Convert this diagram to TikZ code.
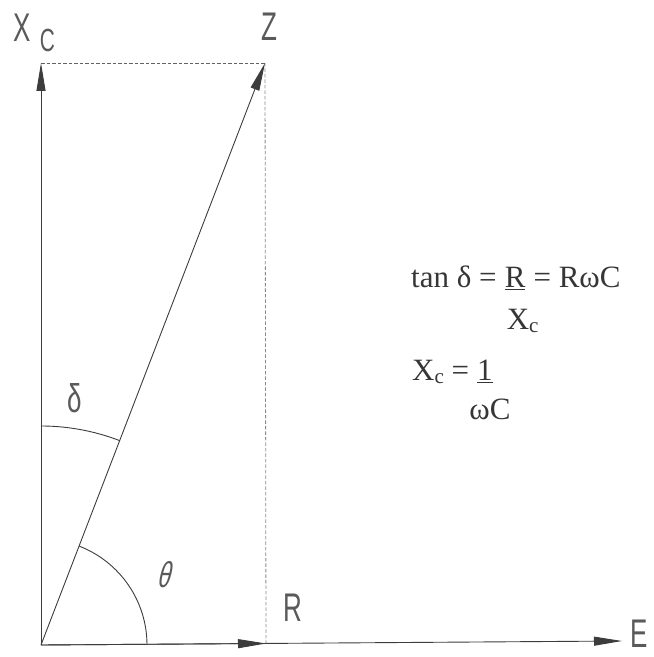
\documentclass[tikz,border=0pt]{standalone}
\usepackage{fontspec}
\setmainfont{Liberation Serif}
\newfontfamily\cad[FakeStretch=0.65]{Liberation Sans}
\newfontfamily\cadsl[FakeStretch=0.65,FakeSlant=0.25]{Liberation Sans}
\usetikzlibrary{arrows.meta,calc}
\definecolor{ink}{HTML}{3C3C3C}
\definecolor{lbl}{HTML}{5A5A5A}
\newcommand{\subc}{\raisebox{-3pt}{\fontsize{21}{21}\selectfont c}}
\begin{document}
\begin{tikzpicture}[x=1pt,y=1pt,
  axis/.style={draw=ink, line width=0.9pt},
  vec/.style={axis, -{Triangle[length=28pt,width=9pt]}},
  guide/.style={draw=ink!80, dash pattern=on 3.5pt off 2pt, line width=0.8pt},
  cadlbl/.style={text=lbl, font=\cad\fontsize{40}{40}\selectfont, inner sep=0},
  cadsmall/.style={text=lbl, font=\cad\fontsize{32}{32}\selectfont, inner sep=0},
  eq/.style={text=ink!90!black, font=\fontsize{31}{32}\selectfont, inner sep=0}]
\useasboundingbox (0,0) rectangle (654,657);
% points
\coordinate (O) at (41,12);
\coordinate (XC) at (41,594);
\coordinate (Z) at (265,594);
\coordinate (R) at (266,13.5);
\coordinate (E) at (622,16);
% guides
\draw[guide] (XC) -- (Z);
\draw[guide, draw=ink!60] (Z) -- (R);
% axes and vectors
\draw[vec] (O) -- (E);
\draw[vec] (O) -- (XC);
\draw[vec] (O) -- (R);
\draw[vec] (O) -- (Z);
% angle arcs
\draw[axis] (41,231) arc[start angle=90, end angle=68.95, radius=219];
\draw[axis] (147,12) arc[start angle=0, end angle=68.95, radius=106];
% CAD labels
\node[cadlbl] (lx) at (22,629) {X};
\node[cadsmall] (lc) at (47.5,617) {C};
\node[cadlbl] (lz) at (269,630) {Z};
\node[cadlbl] (lr) at (292.5,49) {R};
\node[cadlbl, anchor=east] (le) at (648,23) {E};
\node[cadlbl] (ld) at (75,259) {δ};
\node[cadlbl, font=\cadsl\fontsize{36}{36}\selectfont] (lt) at (163,82.5) {θ};
% equations
\node[eq, anchor=base west] (lhs) at (411,369) {tan δ =};
\node[eq, anchor=base west] (num) at ($(lhs.base east)+(7.7,0)$) {\underline{R}};
\node[eq, anchor=base west] (rhs) at ($(num.base east)+(7.7,0)$) {= RωC};
\node[eq, anchor=base west] (den) at ($(num.base west)+(2,-42)$) {X\subc};
\node[eq, anchor=base west] (lhs2) at (412,276) {X\subc{} =};
\node[eq, anchor=base west] (one) at ($(lhs2.base east)+(7.7,0)$) {\underline{1}};
\node[eq, anchor=base] (den2) at ($(one.base)+(5,-39)$) {ωC};
\end{tikzpicture}
\end{document}
